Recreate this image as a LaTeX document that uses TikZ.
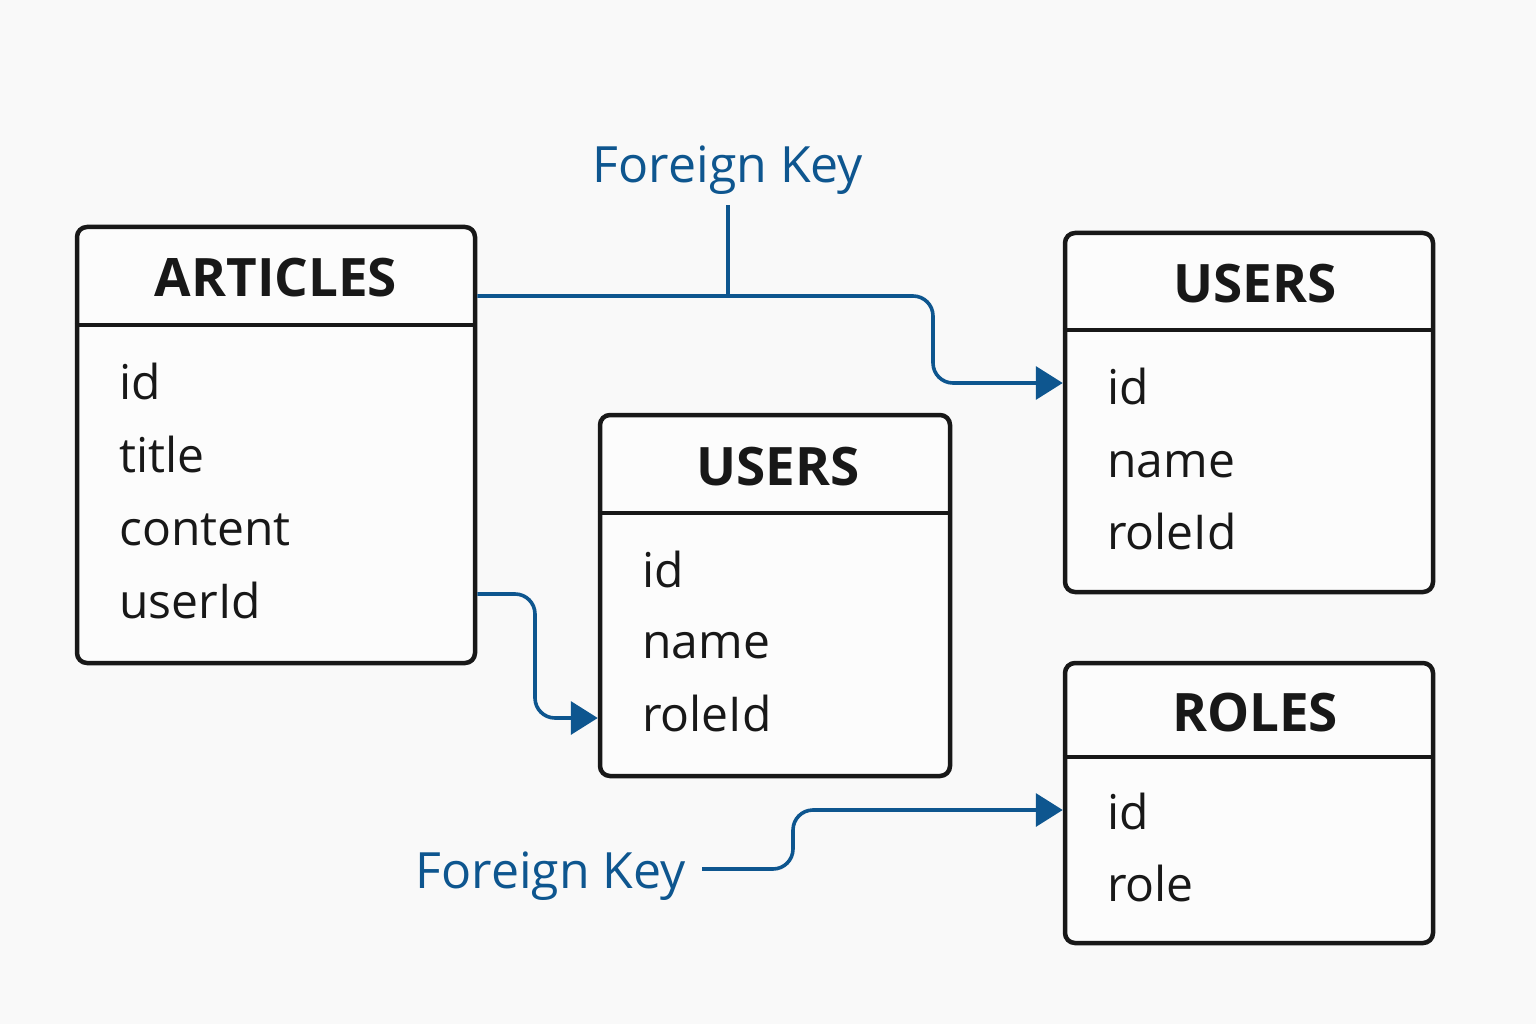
\documentclass[tikz,border=0pt]{standalone}
\usepackage{fontspec}
\setmainfont{Open Sans}
\usetikzlibrary{arrows.meta}
\definecolor{ink}{RGB}{24,24,24}
\definecolor{fkblue}{RGB}{14,86,143}
\definecolor{paper}{RGB}{249,249,249}
\begin{document}
\begin{tikzpicture}[x=1pt,y=-1pt,
  tablebox/.style={draw=ink,line width=4.5pt,rounded corners=10pt,fill=white!50!paper,inner sep=0pt},
  headline/.style={draw=ink,line width=4pt},
  tabletitle/.style={anchor=base,inner sep=0pt,text=ink,font=\fontsize{53}{60}\selectfont\bfseries},
  fieldtext/.style={anchor=base west,inner sep=0pt,text=ink,font=\fontsize{48}{58}\selectfont},
  fklabel/.style={text=fkblue,font=\fontsize{50}{60}\selectfont},
  fkline/.style={draw=fkblue,line width=3.6pt,rounded corners=20pt},
  fkarrow/.style={fkline,-{Triangle[length=27pt,width=33pt]}}]
\fill[paper] (0,0) rectangle (1536,1024);
\useasboundingbox (0,0) rectangle (1536,1024);

\node[tablebox,minimum width=398pt,minimum height=436pt] (articles) at (276,445) {};
\draw[headline] (articles.west |- 0,325) -- (articles.east |- 0,325);
\node[tabletitle] (artname) at (276,297) {ARTICLES};
\node[fieldtext] (art1) at (119,399) {id};
\node[fieldtext] (art2) at (119,472) {title};
\node[fieldtext] (art3) at (119,545) {content};
\node[fieldtext] (art4) at (119,618) {userId};

\node[tablebox,minimum width=368pt,minimum height=359pt] (users) at (1249,412.5) {};
\draw[headline] (users.west |- 0,330) -- (users.east |- 0,330);
\node[tabletitle] (usrname) at (1255,302) {USERS};
\node[fieldtext] (usr1) at (1107,404) {id};
\node[fieldtext] (usr2) at (1107,477) {name};
\node[fieldtext] (usr3) at (1107,549) {roleId};

\node[tablebox,minimum width=350pt,minimum height=361pt] (users2) at (775,595.5) {};
\draw[headline] (users2.west |- 0,513) -- (users2.east |- 0,513);
\node[tabletitle] (usrtwoname) at (778,485) {USERS};
\node[fieldtext] (usrtwo1) at (642,587) {id};
\node[fieldtext] (usrtwo2) at (642,658) {name};
\node[fieldtext] (usrtwo3) at (642,731) {roleId};

\node[tablebox,minimum width=368pt,minimum height=280pt] (roles) at (1249,803) {};
\draw[headline] (roles.west |- 0,757) -- (roles.east |- 0,757);
\node[tabletitle] (rolname) at (1255,731) {ROLES};
\node[fieldtext] (rol1) at (1107,829) {id};
\node[fieldtext] (rol2) at (1107,901) {role};

\node[fklabel,anchor=base,inner ysep=10pt] (fktop) at (728,183) {Foreign Key};
\node[fklabel,anchor=base east,inner xsep=16pt] (fkbot) at (702,888) {Foreign Key};

\draw[fkarrow] (articles.east |- 0,296) -- (933,296) -- (933,383) -- (users.west |- 0,383);
\draw[fkline] (fktop.south) -- (fktop.south |- 0,296);
\draw[fkarrow] (articles.east |- 0,594) -- (535,594) -- (535,718) -- (users2.west |- 0,718);
\draw[fkarrow] (fkbot.east |- 0,869) -- (793,869) -- (793,810) -- (roles.west |- 0,810);
\end{tikzpicture}
\end{document}
